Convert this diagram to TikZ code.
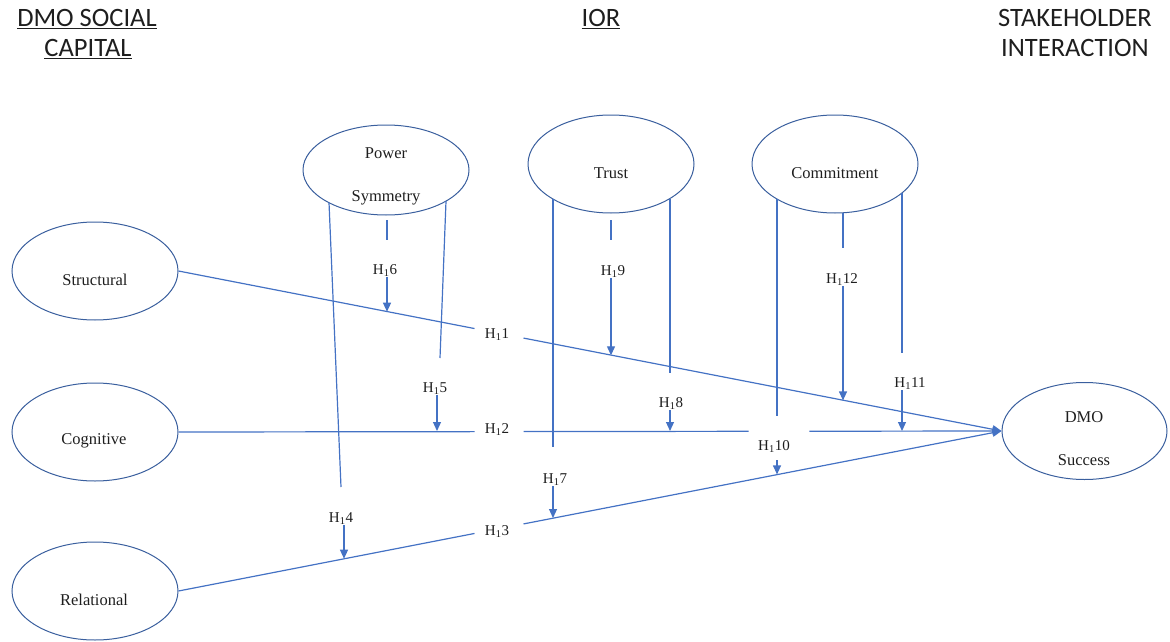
\documentclass[tikz,border=0pt]{standalone}
\usepackage{fontspec}
\setmainfont{Liberation Serif}
\newfontfamily\bodyfont{Liberation Serif}
\newfontfamily\hdrfont{Carlito}
\usetikzlibrary{shapes.geometric,arrows.meta,calc}
\definecolor{linkblue}{HTML}{4472C4}
\definecolor{rimblue}{HTML}{3A5F9E}
\definecolor{ink}{HTML}{1E1E1E}
\tikzset{
  construct/.style={ellipse, draw=rimblue, line width=1pt, minimum width=166pt,
    minimum height=98pt, inner sep=0pt},
  cname/.style={font=\bodyfont\fontsize{16.5}{18}\selectfont, text=ink, anchor=base, inner sep=0pt},
  hyp/.style={font=\bodyfont\fontsize{15}{17}\selectfont, text=ink, anchor=base, inner sep=0pt},
  head/.style={font=\hdrfont\fontsize{26.5}{30}\selectfont, text=ink, anchor=base, inner sep=0pt},
  link/.style={draw=linkblue, line width=1.2pt},
  effect/.style={link, -{Triangle[length=9pt,width=8pt]}},
}
\begin{document}
\begin{tikzpicture}[x=1pt, y=-1pt]
\useasboundingbox (0,0) rectangle (1170,642);

% column headings
\node[head] (hA1) at (87,27) {\underline{DMO SOCIAL}};
\node[head] (hA2) at (88,57) {\underline{CAPITAL}};
\node[head] (hB)  at (601,27) {\underline{IOR}};
\node[head] (hC1) at (1075,27) {STAKEHOLDER};
\node[head] (hC2) at (1075,57) {INTERACTION};

% constructs
\node[construct] (str) at (95,271) {};
\node[construct] (cog) at (95,432) {};
\node[construct] (rel) at (95,591) {};
\node[construct, minimum height=90pt] (pow) at (386,170) {};
\node[construct] (tru) at (611,164) {};
\node[construct] (com) at (835,164) {};
\node[construct, minimum width=165pt, minimum height=97pt] (dmo) at (1084.5,431) {};

\node[cname] (strT) at (95,285) {Structural};
\node[cname] (cogT) at (94,444) {Cognitive};
\node[cname] (relT) at (94,605) {Relational};
\node[cname] (powT1) at (386,158) {Power};
\node[cname] (powT2) at (386,201) {Symmetry};
\node[cname] (truT) at (611,178) {Trust};
\node[cname] (comT) at (835,178) {Commitment};
\node[cname] (dmoT1) at (1084,422) {DMO};
\node[cname] (dmoT2) at (1084,465) {Success};

% direct effects H1 1 - H1 3
\draw[link] (str.east) -- ($(str.east)!0.3597!(dmo.west)$);
\draw[effect] ($(str.east)!0.4192!(dmo.west)$) -- (dmo.west);
\node[hyp] (h1) at (497,338) {H\textsubscript{1}1};

\draw[link] (cog.east) -- ($(cog.east)!0.3597!(dmo.west)$);
\draw[link] ($(cog.east)!0.4192!(dmo.west)$) -- ($(cog.east)!0.6926!(dmo.west)$);
\draw[effect] ($(cog.east)!0.7667!(dmo.west)$) -- (dmo.west);
\node[hyp] (h2) at (497,433) {H\textsubscript{1}2};

\draw[link] (rel.east) -- ($(rel.east)!0.3597!(dmo.west)$);
\draw[effect] ($(rel.east)!0.4192!(dmo.west)$) -- (dmo.west);
\node[hyp] (h3) at (497,535) {H\textsubscript{1}3};

% moderating paths
\node[hyp] (h4)  at (341,522) {H\textsubscript{1}4};
\node[hyp] (h5)  at (435,392) {H\textsubscript{1}5};
\node[hyp] (h6)  at (385,274) {H\textsubscript{1}6};
\node[hyp] (h7)  at (555,483) {H\textsubscript{1}7};
\node[hyp] (h8)  at (671,407) {H\textsubscript{1}8};
\node[hyp] (h9)  at (613,275) {H\textsubscript{1}9};
\node[hyp] (h10) at (774,450) {H\textsubscript{1}10};
\node[hyp] (h11) at (910,387) {H\textsubscript{1}11};
\node[hyp] (h12) at (842,283) {H\textsubscript{1}12};

% points where the moderators meet the direct paths
\coordinate (t4)  at (344,558.7);
\coordinate (t5)  at (437,431);
\coordinate (t6)  at (387,311.7);
\coordinate (t7)  at (553,518);
\coordinate (t8)  at (670,431);
\coordinate (t9)  at (611,355.3);
\coordinate (t10) at (777,474.4);
\coordinate (t11) at (902,431);
\coordinate (t12) at (843,400.4);

% Power Symmetry
\coordinate (p4a) at (329,202.5);
\coordinate (p4b) at (341,487);
\coordinate (p5a) at (446,201);
\coordinate (p5b) at (440,358);
\coordinate (p6a) at (387,220);
\coordinate (p6b) at (387,240);
\draw[link] (p4a) -- (p4b);
\draw[link] (p5a) -- (p5b);
\draw[link] (p6a) -- (p6b);
\draw[effect] ($(h4.south -| t4)+(0,1)$) -- (t4);
\draw[effect] ($(h5.south -| t5)+(0,1)$) -- (t5);
\draw[effect] ($(h6.south -| t6)+(0,1)$) -- (t6);

% Trust
\coordinate (p7a) at (553,199);
\coordinate (p7b) at (553,447);
\coordinate (p8a) at (670,199);
\coordinate (p8b) at (670,373);
\coordinate (p9a) at (611,220);
\coordinate (p9b) at (611,240);
\draw[link] (p7a) -- (p7b);
\draw[link] (p8a) -- (p8b);
\draw[link] (p9a) -- (p9b);
\draw[effect] ($(h7.south -| t7)+(0,1)$) -- (t7);
\draw[effect] ($(h8.south -| t8)+(0,1)$) -- (t8);
\draw[effect] ($(h9.south -| t9)+(0,1)$) -- (t9);

% Commitment
\coordinate (p10a) at (777,199);
\coordinate (p10b) at (777,416);
\coordinate (p11a) at (902,193);
\coordinate (p11b) at (902,353);
\coordinate (p12a) at (843,213);
\coordinate (p12b) at (843,248);
\draw[link] (p10a) -- (p10b);
\draw[link] (p11a) -- (p11b);
\draw[link] (p12a) -- (p12b);
\draw[effect] ($(h10.south -| t10)+(0,8)$) -- (t10);
\draw[effect] ($(h11.south -| t11)+(0,1)$) -- (t11);
\draw[effect] ($(h12.south -| t12)+(0,1)$) -- (t12);
\end{tikzpicture}
\end{document}
